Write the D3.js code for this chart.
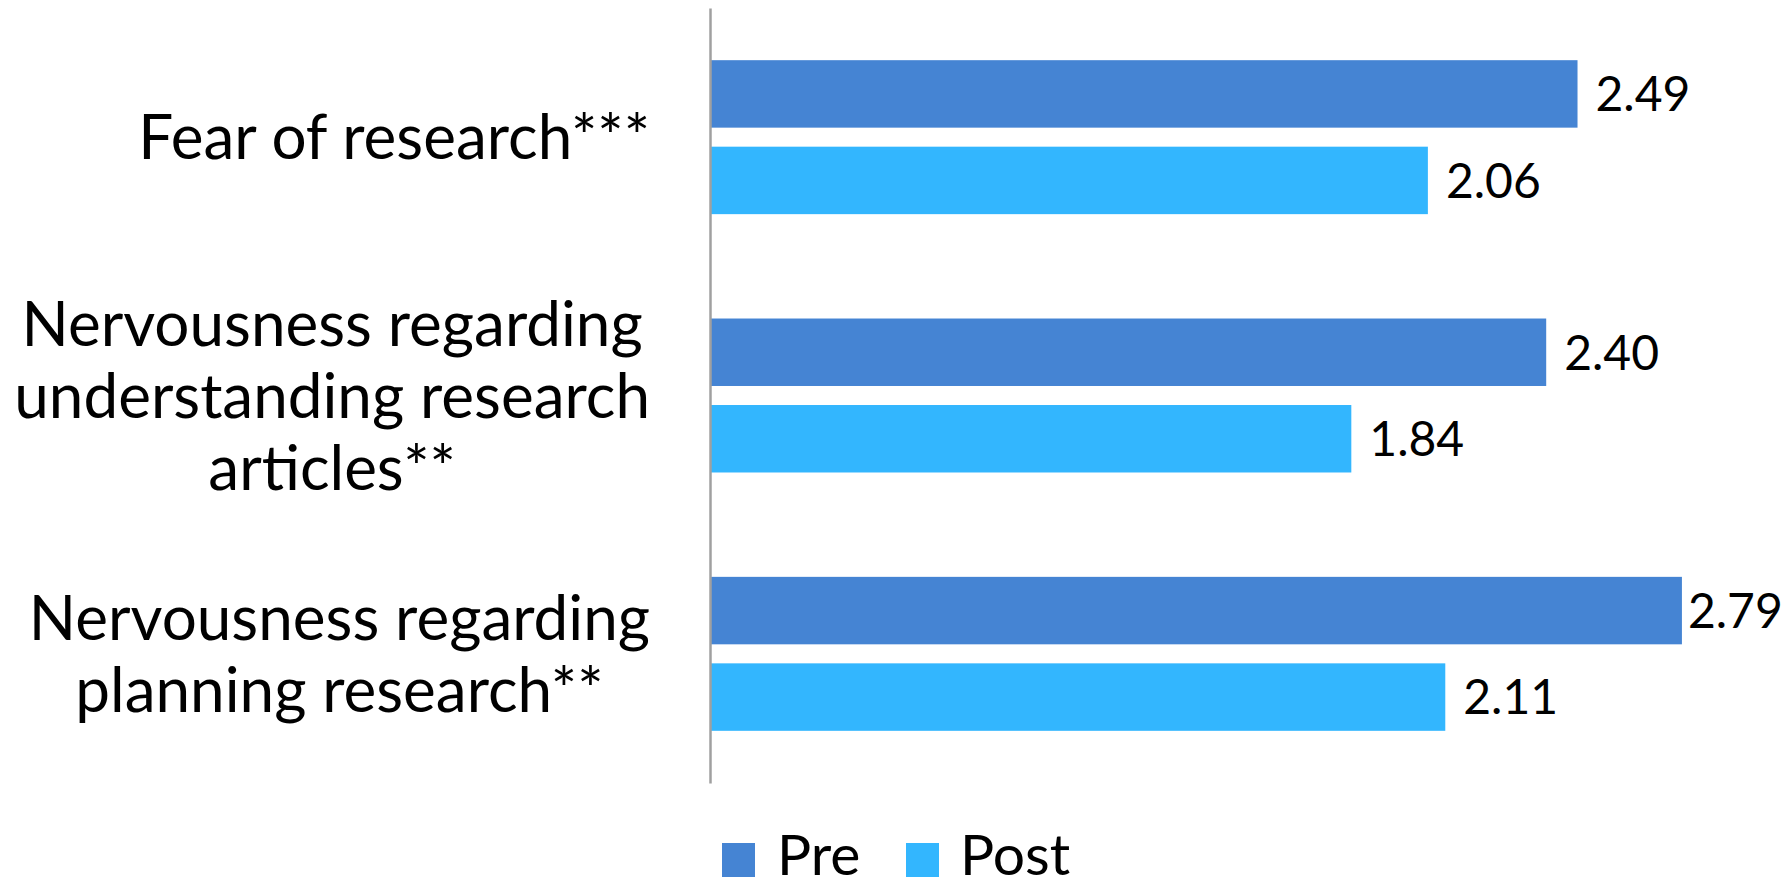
<!DOCTYPE html>
<html>
<head>
<meta charset="utf-8">
<script src="https://cdn.jsdelivr.net/npm/d3@7"></script>
<style>
  html, body { margin: 0; padding: 0; background: #fff; }
  svg { display: block; }
  text { font-family: Lato, "Open Sans", sans-serif; fill: #000; }
</style>
</head>
<body>
<svg id="chart" width="1789" height="881"></svg>
<script>
const categories = [
  "Fear of research***",
  "Nervousness regarding understanding research articles**",
  "Nervousness regarding planning research**"
];
const categoryLines = [
  ["Fear of research***"],
  ["Nervousness regarding", "understanding research", "articles**"],
  ["Nervousness regarding", "planning research**"]
];
const series = ["Pre", "Post"];
const preValues = [2.49, 2.40, 2.79];
const postValues = [2.06, 1.84, 2.11];
const xDomain = [0, 3];

const colors = { Pre: "#4584d3", Post: "#33b6fe" };

const W = 1789, H = 881;
const plot = { left: 711, right: 1755, top: 8, bottom: 783 };
const svg = d3.select("#chart");

const x = d3.scaleLinear().domain(xDomain).range([plot.left, plot.right]);
const y0 = d3.scaleBand().domain(categories).range([plot.top, plot.bottom]).padding(0);
const bw = y0.bandwidth();
const y1 = d3.scaleBand().domain(series)
  .range([bw * 0.202, bw * 0.798]).paddingInner(0.22).paddingOuter(0);

const rows = categories.map((c, i) => ({
  cat: c, lines: categoryLines[i],
  vals: [{ s: "Pre", v: preValues[i] }, { s: "Post", v: postValues[i] }]
}));

// bars
const g = svg.append("g");
const grp = g.selectAll("g.grp").data(rows).join("g")
  .attr("class", "grp")
  .attr("transform", d => `translate(0,${y0(d.cat)})`);

grp.selectAll("rect").data(d => d.vals).join("rect")
  .attr("x", x(0))
  .attr("y", d => y1(d.s))
  .attr("width", d => x(d.v) - x(0))
  .attr("height", y1.bandwidth())
  .attr("fill", d => colors[d.s]);

// value labels
grp.selectAll("text.val").data(d => d.vals).join("text")
  .attr("class", "val")
  .attr("y", d => y1(d.s) + y1.bandwidth() / 2)
  .attr("dy", "0.36em")
  .style("font-size", "48px")
  .text(d => d.v.toFixed(2))
  .each(function(d) {
    const w = this.getComputedTextLength();
    const xx = Math.max(x(d.v) + 6, Math.min(x(d.v) + 18, 1774 - w));
    d3.select(this).attr("x", xx);
  });

// axis line
const axis = d3.axisLeft(y0).tickSize(0).tickSizeOuter(0).tickFormat("");
const ax = svg.append("g").attr("transform", `translate(${plot.left - 1},0)`).call(axis);
ax.select(".domain").attr("stroke", "#a0a0a0").attr("stroke-width", 2.5);

// category labels (centered block, right-aligned to axis)
const lineH = 72;
const labelRight = 650;
rows.forEach(r => {
  const cy = y0(r.cat) + bw / 2;
  const n = r.lines.length;
  const tg = svg.append("g");
  const texts = tg.selectAll("text").data(r.lines).join("text")
    .attr("text-anchor", "middle")
    .attr("y", (d, i) => cy + (i - (n - 1) / 2) * lineH)
    .attr("dy", "0.36em")
    .style("font-size", "62px")
    .text(d => d);
  let maxW = 0;
  texts.each(function() { maxW = Math.max(maxW, this.getComputedTextLength()); });
  texts.attr("x", labelRight - maxW / 2);
});

// legend
const legendItems = [
  { s: "Pre", sx: 722, tx: 777 },
  { s: "Post", sx: 906, tx: 960 }
];
const lg = svg.append("g");
lg.selectAll("rect").data(legendItems).join("rect")
  .attr("x", d => d.sx).attr("y", 843).attr("width", 33).attr("height", 34)
  .attr("fill", d => colors[d.s]);
lg.selectAll("text").data(legendItems).join("text")
  .attr("x", d => d.tx).attr("y", 875)
  .style("font-size", "57px")
  .text(d => d.s);
</script>
</body>
</html>
